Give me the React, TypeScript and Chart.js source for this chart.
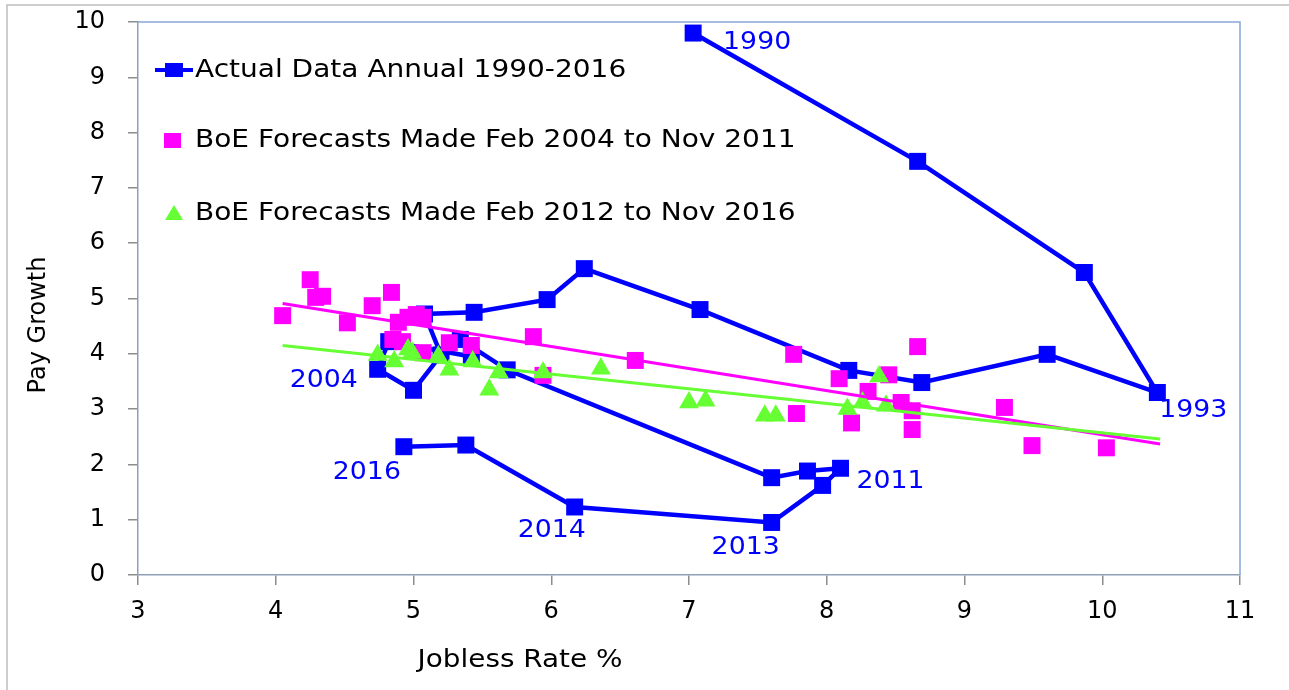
import { useEffect, useRef } from "react";
import { Chart, registerables } from "chart.js";

Chart.register(...registerables);

// ---- Data ----
const actualYears = [
  1990, 1991, 1992, 1993, 1994, 1995, 1996, 1997, 1998, 1999, 2000, 2001, 2002, 2003,
  2004, 2005, 2006, 2007, 2008, 2009, 2010, 2011, 2012, 2013, 2014, 2015, 2016,
];
const actualJobless = [
  7.03, 8.66, 9.87, 10.4, 9.6, 8.69, 8.16, 7.08, 6.24, 5.97, 5.44, 5.08, 5.2, 5.0,
  4.74, 4.82, 5.42, 5.34, 5.68, 7.6, 7.86, 8.1, 7.97, 7.6, 6.17, 5.38, 4.93,
];
const actualPay = [
  9.8, 7.48, 5.47, 3.3, 3.99, 3.48, 3.7, 4.8, 5.54, 4.98, 4.75, 4.72, 3.98, 3.34,
  3.72, 4.22, 3.95, 4.26, 3.71, 1.76, 1.88, 1.93, 1.62, 0.95, 1.23, 2.35, 2.32,
];

const forecast0411Jobless = [
  4.05, 4.25, 4.29, 4.34, 4.52, 4.7, 4.84, 4.89, 4.96, 5.02, 5.07, 4.85, 4.92, 5.07,
  5.26, 5.42, 5.87, 5.94, 6.61, 7.76, 7.78, 8.09, 8.18, 8.3, 8.45, 8.54, 8.62, 8.62,
  8.66, 9.29, 9.49, 10.03,
];
const forecast0411Pay = [
  4.69, 5.34, 5.02, 5.04, 4.56, 4.87, 5.11, 4.57, 4.66, 4.71, 4.66, 4.26, 4.22, 4.02,
  4.2, 4.15, 4.31, 3.61, 3.88, 3.99, 2.92, 3.55, 2.75, 3.32, 3.62, 3.12, 2.97, 2.63,
  4.13, 3.03, 2.34, 2.3,
];

const forecast1216Jobless = [
  4.74, 4.86, 4.96, 4.99, 5.18, 5.26, 5.43, 5.55, 5.62, 5.94, 6.36, 7.0, 7.12, 7.55,
  7.63, 8.15, 8.26, 8.38, 8.43,
];
const forecast1216Pay = [
  3.98, 3.86, 4.08, 4.02, 3.95, 3.71, 3.86, 3.35, 3.66, 3.66, 3.73, 3.12, 3.15, 2.88,
  2.88, 3.0, 3.12, 3.59, 3.06,
];

const trend0411Jobless = [4.05, 10.42];
const trend0411Pay = [4.91, 2.37];
const trend1216Jobless = [4.05, 10.42];
const trend1216Pay = [4.15, 2.46];

const labelledYears = [1990, 1993, 2004, 2016, 2014, 2013, 2011];

const legendLabels = [
  "Actual Data Annual 1990-2016",
  "BoE Forecasts Made Feb 2004 to Nov 2011",
  "BoE Forecasts Made Feb 2012 to Nov 2016",
];
const xAxisTitle = "Jobless Rate %";
const yAxisTitle = "Pay Growth";

// ---- Styles / positions ----
const BLUE = "#0000ff";
const PINK = "#ff00ff";
const GREEN = "#66ff33";
const FONT = "DejaVu Sans";
const yearLabelOffsets: Record<number, [number, number]> = {
  1990: [64, 9],
  1993: [36, 18],
  2004: [-54, 11],
  2016: [-37, 26],
  2014: [-23, 24],
  2013: [-26, 25],
  2011: [50, 13],
};

const zip = (xs: number[], ys: number[]) => xs.map((x, i) => ({ x, y: ys[i] }));

function drawText(
  ctx: CanvasRenderingContext2D,
  text: string,
  x: number,
  y: number,
  size: number,
  color: string,
  align: CanvasTextAlign,
  sx: number,
  rotate = 0
) {
  ctx.save();
  ctx.translate(x, y);
  if (rotate) ctx.rotate(rotate);
  ctx.scale(sx, 1);
  ctx.font = `${size}px "${FONT}"`;
  ctx.fillStyle = color;
  ctx.textAlign = align;
  ctx.textBaseline = "middle";
  ctx.fillText(text, 0, 0);
  ctx.restore();
}

const decorPlugin = {
  id: "decor",
  beforeDatasetsDraw(chart: any) {
    const { ctx, chartArea } = chart;
    ctx.save();
    ctx.strokeStyle = "#86a8d6";
    ctx.lineWidth = 1.5;
    ctx.beginPath();
    ctx.moveTo(chartArea.left, chartArea.top);
    ctx.lineTo(chartArea.right, chartArea.top);
    ctx.lineTo(chartArea.right, chartArea.bottom);
    ctx.stroke();
    ctx.restore();
  },
  afterDatasetsDraw(chart: any) {
    const { ctx } = chart;
    const xs = chart.scales.x;
    const ys = chart.scales.y;
    // year labels
    labelledYears.forEach((yr) => {
      const i = actualYears.indexOf(yr);
      const [dx, dy] = yearLabelOffsets[yr];
      const px = xs.getPixelForValue(actualJobless[i]) + dx;
      const py = ys.getPixelForValue(actualPay[i]) + dy;
      drawText(ctx, String(yr), px, py, 25, BLUE, "center", 1.07);
    });
    // legend
    const lx = 195;
    const rows = [70, 140, 213];
    ctx.save();
    ctx.strokeStyle = BLUE;
    ctx.lineWidth = 4;
    ctx.beginPath();
    ctx.moveTo(155, rows[0]);
    ctx.lineTo(193, rows[0]);
    ctx.stroke();
    ctx.fillStyle = BLUE;
    ctx.fillRect(165, rows[0] - 7, 18, 14);
    ctx.fillStyle = PINK;
    ctx.fillRect(164, rows[1] - 7, 17, 15);
    ctx.fillStyle = GREEN;
    ctx.beginPath();
    ctx.moveTo(165, rows[2] + 7);
    ctx.lineTo(183, rows[2] + 7);
    ctx.lineTo(174, rows[2] - 8);
    ctx.closePath();
    ctx.fill();
    ctx.restore();
    legendLabels.forEach((t, i) => drawText(ctx, t, lx, rows[i], 25, "#000", "left", 1.12));
    // axis titles
    drawText(ctx, xAxisTitle, 520, 661, 24, "#000", "center", 1.16);
    drawText(ctx, yAxisTitle, 39, 325, 24, "#000", "center", 1.0, -Math.PI / 2);
  },
  afterDraw(chart: any) {
    const { ctx } = chart;
    ctx.save();
    ctx.strokeStyle = "#bdbdbd";
    ctx.lineWidth = 1.5;
    ctx.beginPath();
    ctx.moveTo(7, 690);
    ctx.lineTo(7, 5);
    ctx.lineTo(1289, 5);
    ctx.stroke();
    ctx.restore();
  },
};

const zeroPad = (s: any) => {
  s.paddingTop = 0;
  s.paddingBottom = 0;
  s.paddingLeft = 0;
  s.paddingRight = 0;
};

export default function App() {
  const ref = useRef<HTMLCanvasElement | null>(null);
  useEffect(() => {
    if (!ref.current) return;
    const tickFont = { family: FONT, size: 24 };
    const chart = new Chart(ref.current, {
      type: "scatter",
      data: {
        datasets: [
          {
            label: legendLabels[0],
            data: zip(actualJobless, actualPay),
            showLine: true,
            borderColor: BLUE,
            backgroundColor: BLUE,
            borderWidth: 4.5,
            pointStyle: "rect",
            pointRadius: 12,
            pointBorderWidth: 0,
            order: 5,
          },
          {
            label: legendLabels[1],
            data: zip(forecast0411Jobless, forecast0411Pay),
            showLine: false,
            borderColor: PINK,
            backgroundColor: PINK,
            pointStyle: "rect",
            pointRadius: 12,
            pointBorderWidth: 0,
            order: 4,
          },
          {
            label: legendLabels[2],
            data: zip(forecast1216Jobless, forecast1216Pay),
            showLine: false,
            borderColor: GREEN,
            backgroundColor: GREEN,
            pointStyle: "triangle",
            pointRadius: 11.5,
            pointBorderWidth: 0,
            order: 3,
          },
          {
            label: "trend 2004-2011",
            data: zip(trend0411Jobless, trend0411Pay),
            showLine: true,
            borderColor: PINK,
            borderWidth: 3,
            pointRadius: 0,
            order: 2,
          },
          {
            label: "trend 2012-2016",
            data: zip(trend1216Jobless, trend1216Pay),
            showLine: true,
            borderColor: GREEN,
            borderWidth: 3,
            pointRadius: 0,
            order: 1,
          },
        ],
      },
      options: {
        responsive: false,
        animation: false,
        devicePixelRatio: 1,
        layout: { padding: { left: 0, right: 49, top: 22, bottom: 0 } },
        plugins: { legend: { display: false }, tooltip: { enabled: false } },
        events: [],
        scales: {
          x: {
            type: "linear",
            min: 3,
            max: 11,
            ticks: { stepSize: 1, color: "#000", font: tickFont, padding: 12 },
            grid: { drawOnChartArea: false, tickLength: 10, color: "#8c8c8c", lineWidth: 1.5 },
            border: { color: "#8ea0b5", width: 1.5 },
            afterFit: (s: any) => {
              s.height = 115;
              zeroPad(s);
            },
          },
          y: {
            type: "linear",
            min: 0,
            max: 10,
            ticks: { stepSize: 1, color: "#000", font: tickFont, padding: 23 },
            grid: { drawOnChartArea: false, tickLength: 10, color: "#8c8c8c", lineWidth: 1.5 },
            border: { color: "#8ea0b5", width: 1.5 },
            afterFit: (s: any) => {
              s.width = 138;
              zeroPad(s);
            },
          },
        },
      },
      plugins: [decorPlugin],
    });
    return () => chart.destroy();
  }, []);
  return (
    <div style={{ position: "absolute", left: 0, top: 0, width: 1289, height: 690, background: "#fff" }}>
      <canvas ref={ref} width={1289} height={690} style={{ width: 1289, height: 690, display: "block" }} />
    </div>
  );
}
